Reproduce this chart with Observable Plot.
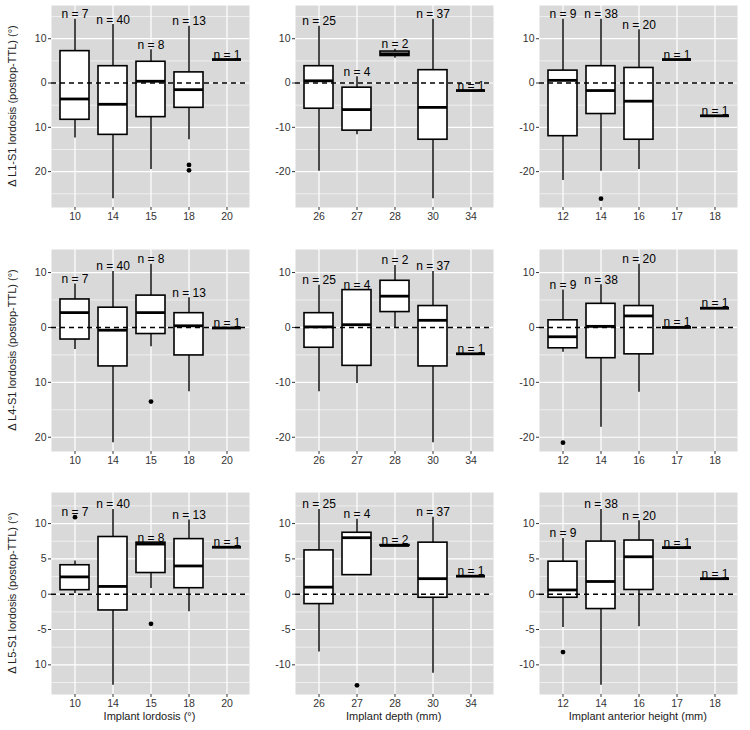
<!DOCTYPE html>
<html>
<head>
<meta charset="utf-8">
<script src="https://cdn.jsdelivr.net/npm/d3@7"></script>
<script src="https://cdn.jsdelivr.net/npm/@observablehq/plot@0.6"></script>
<style>
  html, body { margin: 0; padding: 0; background: #fff; }
  #chart { position: relative; width: 750px; height: 730px; font-family: "Liberation Sans", Arial, sans-serif; }
  .ytitle, .xtitle { position: absolute; white-space: nowrap; font-size: 11px; color: #222; }
  .ytitle { transform: translate(-50%, -50%) rotate(-90deg); }
  .xtitle { transform: translate(-50%, -50%); }
</style>
</head>
<body>
<div id="chart"></div>
<script>
// ---------- categories (x) ----------
const lordosisCats = ["10", "14", "15", "18", "20"];
const depthCats    = ["26", "27", "28", "30", "34"];
const heightCats   = ["12", "14", "16", "17", "18"];

// ---------- axis titles ----------
const rowTitles = ["Δ L1-S1 lordosis (postop-TTL) (°)", "Δ L4-S1 lordosis (postop-TTL) (°)", "Δ L5-S1 lordosis (postop-TTL) (°)"];
const colTitles = ["Implant lordosis (°)", "Implant depth (mm)", "Implant anterior height (mm)"];

// ---------- y ticks and labels (as printed) ----------
const ticksRow12 = [-20, -10, 0, 10];
const ticksRow3  = [-10, -5, 0, 5, 10];
const labelsRow12Col1 = ["20", "10", "0", "10"];
const labelsRow12     = ["-20", "-10", "0", "10"];
const labelsRow3Col1  = ["10", "-5", "0", "5", "10"];
const labelsRow3      = ["-10", "-5", "0", "5", "10"];
const minorRow12 = [-25, -15, -5, 5, 15];
const minorRow3  = [-12.5, -7.5, -2.5, 2.5, 7.5, 12.5];
const domainRow1 = [-28.1, 17.5];
const domainRow2 = [-22.6, 14.2];
const domainRow3 = [-14.2, 14.4];

// ---------- box summaries: [category, n, whiskerLow, q1, median, q3, whiskerHigh] ----------
const L1S1_lordosis = [
  ["10", 7, -12.4, -8.3, -3.6, 7.2, 14.4],
  ["14", 40, -26.1, -11.7, -4.8, 3.8, 13.2],
  ["15", 8, -19.5, -7.7, 0.4, 4.8, 7.5],
  ["18", 13, -12.8, -5.6, -1.5, 2.4, 12.8],
  ["20", 1, 5.3, 5.3, 5.3, 5.3, 5.3]
];
const L1S1_lordosis_out = [["18", -18.5], ["18", -19.7]];

const L1S1_depth = [
  ["26", 25, -19.9, -5.8, 0.5, 3.8, 12.8],
  ["27", 4, -11.7, -10.75, -6.0, -1.05, 1.4],
  ["28", 2, 5.6, 6.1, 6.6, 7.1, 7.6],
  ["30", 37, -26.1, -12.8, -5.5, 2.9, 14.4],
  ["34", 1, -1.7, -1.7, -1.7, -1.7, -1.7]
];
const L1S1_depth_out = [];

const L1S1_height = [
  ["12", 9, -22.0, -12.0, 0.6, 2.8, 14.4],
  ["14", 38, -19.9, -7.0, -1.7, 3.8, 14.4],
  ["16", 20, -19.5, -12.8, -4.1, 3.4, 12.0],
  ["17", 1, 5.3, 5.3, 5.3, 5.3, 5.3],
  ["18", 1, -7.4, -7.4, -7.4, -7.4, -7.4]
];
const L1S1_height_out = [["14", -26.1]];

const L4S1_lordosis = [
  ["10", 7, -4.0, -2.2, 2.7, 5.1, 7.9],
  ["14", 40, -21.0, -7.1, -0.5, 3.6, 10.2],
  ["15", 8, -3.5, -1.2, 2.7, 5.8, 11.5],
  ["18", 13, -11.7, -5.1, 0.3, 2.6, 5.4],
  ["20", 1, -0.1, -0.1, -0.1, -0.1, -0.1]
];
const L4S1_lordosis_out = [["15", -13.5]];

const L4S1_depth = [
  ["26", 25, -11.7, -3.7, 0.1, 2.6, 7.7],
  ["27", 4, -10.2, -7.0, 0.5, 6.8, 6.9],
  ["28", 2, 0.0, 2.8, 5.7, 8.5, 11.3],
  ["30", 37, -21.0, -7.1, 1.3, 3.9, 10.2],
  ["34", 1, -4.8, -4.8, -4.8, -4.8, -4.8]
];
const L4S1_depth_out = [];

const L4S1_height = [
  ["12", 9, -4.5, -3.8, -1.7, 1.3, 6.8],
  ["14", 38, -18.2, -5.6, 0.2, 4.3, 7.8],
  ["16", 20, -11.8, -4.9, 2.1, 3.9, 11.5],
  ["17", 1, 0.0, 0.0, 0.0, 0.0, 0.0],
  ["18", 1, 3.5, 3.5, 3.5, 3.5, 3.5]
];
const L4S1_height_out = [["12", -21.0]];

const L5S1_lordosis = [
  ["10", 7, 0.1, 0.57, 2.45, 4.1, 4.7],
  ["14", 40, -12.9, -2.3, 1.1, 8.1, 12.0],
  ["15", 8, 0.8, 3.0, 7.1, 7.3, 7.3],
  ["18", 13, -2.5, 0.85, 4.0, 7.8, 10.5],
  ["20", 1, 6.65, 6.65, 6.65, 6.65, 6.65]
];
const L5S1_lordosis_out = [["10", 10.9], ["15", -4.2]];

const L5S1_depth = [
  ["26", 25, -8.2, -1.4, 1.0, 6.2, 12.0],
  ["27", 4, 2.7, 2.7, 8.0, 8.7, 10.6],
  ["28", 2, 6.8, 6.85, 6.9, 6.95, 7.0],
  ["30", 37, -11.2, -0.5, 2.2, 7.3, 10.9],
  ["34", 1, 2.55, 2.55, 2.55, 2.55, 2.55]
];
const L5S1_depth_out = [["27", -12.9]];

const L5S1_height = [
  ["12", 9, -4.7, -0.5, 0.6, 4.6, 7.9],
  ["14", 38, -12.9, -2.1, 1.8, 7.45, 12.0],
  ["16", 20, -4.6, 0.6, 5.3, 7.6, 10.4],
  ["17", 1, 6.6, 6.6, 6.6, 6.6, 6.6],
  ["18", 1, 2.2, 2.2, 2.2, 2.2, 2.2]
];
const L5S1_height_out = [["12", -8.2]];

// ---------- layout ----------
const mL = 32, mR = 4, mT = 4, mB = 22;
const PW = 198, PH = 202;
const colLeft = [50.5, 294.7, 538.8];
const rowTop = [5, 248.5, 492.3];

const panels = [
  [L1S1_lordosis, L1S1_lordosis_out, L1S1_depth, L1S1_depth_out, L1S1_height, L1S1_height_out],
  [L4S1_lordosis, L4S1_lordosis_out, L4S1_depth, L4S1_depth_out, L4S1_height, L4S1_height_out],
  [L5S1_lordosis, L5S1_lordosis_out, L5S1_depth, L5S1_depth_out, L5S1_height, L5S1_height_out]
];
const catsByCol = [lordosisCats, depthCats, heightCats];
const domains = [domainRow1, domainRow2, domainRow3];
const ticksByRow = [ticksRow12, ticksRow12, ticksRow3];
const minorByRow = [minorRow12, minorRow12, minorRow3];
const labelsFor = (r, c) => r < 2 ? (c === 0 ? labelsRow12Col1 : labelsRow12) : (c === 0 ? labelsRow3Col1 : labelsRow3);

const chart = document.getElementById("chart");

function panel(r, c) {
  const rows = panels[r][c * 2];
  const outs = panels[r][c * 2 + 1];
  const data = rows.map(([cat, n, lo, q1, med, q3, hi]) => {
    const oMax = d3.max(outs.filter(o => o[0] === cat), o => o[1]);
    return {cat, n, lo, q1, med, q3, hi, top: oMax != null ? Math.max(hi, oMax) : hi};
  });
  const ticks = ticksByRow[r];
  const labels = labelsFor(r, c);
  const svg = Plot.plot({
    width: mL + PW + mR,
    height: mT + PH + mB,
    marginLeft: mL, marginRight: mR, marginTop: mT, marginBottom: mB,
    style: {fontFamily: "Liberation Sans, Arial, sans-serif", fontSize: "10px", background: "transparent", overflow: "visible"},
    x: {type: "band", domain: catsByCol[c], paddingInner: 0.25, paddingOuter: 0.225, label: null},
    y: {domain: domains[r], label: null},
    marks: [
      Plot.frame({fill: "#d9d9d9", stroke: "none"}),
      Plot.gridY({ticks: minorByRow[r], stroke: "white", strokeOpacity: 1, strokeWidth: 0.6}),
      Plot.gridY({ticks: ticks, stroke: "white", strokeOpacity: 1, strokeWidth: 1.2}),
      Plot.gridX({stroke: "white", strokeOpacity: 1, strokeWidth: 1.2}),
      Plot.axisY({ticks: ticks, tickFormat: d => labels[ticks.indexOf(d)], tickSize: 3, tickPadding: 2, fontSize: 10.5, color: "#333", label: null}),
      Plot.axisX({tickSize: 3, tickPadding: 2, fontSize: 10.5, color: "#333", label: null}),
      Plot.ruleX(data, {x: "cat", y1: "lo", y2: "hi", stroke: "black", strokeWidth: 1.4}),
      Plot.barY(data, {x: "cat", y1: "q1", y2: "q3", fill: "white", stroke: "black", strokeWidth: 1.6}),
      Plot.tickY(data, {x: "cat", y: "med", stroke: "black", strokeWidth: 2.8}),
      Plot.dot(outs, {x: d => d[0], y: d => d[1], r: 2.4, fill: "black", stroke: "none"}),
      Plot.ruleY([0], {stroke: "black", strokeWidth: 1.5, strokeDasharray: "5,4"}),
      Plot.text(data, {x: "cat", y: "top", text: d => `n = ${d.n}`, lineAnchor: "bottom", dy: -1, fontSize: 12, fill: "black"})
    ]
  });
  svg.style.position = "absolute";
  svg.style.left = (colLeft[c] - mL) + "px";
  svg.style.top = (rowTop[r] - mT) + "px";
  chart.appendChild(svg);
}

for (let r = 0; r < 3; r++) for (let c = 0; c < 3; c++) panel(r, c);

rowTitles.forEach((t, r) => {
  const d = document.createElement("div");
  d.className = "ytitle";
  d.textContent = t;
  d.style.left = "12px";
  d.style.top = (rowTop[r] + PH / 2) + "px";
  chart.appendChild(d);
});
colTitles.forEach((t, c) => {
  const d = document.createElement("div");
  d.className = "xtitle";
  d.textContent = t;
  d.style.left = (colLeft[c] + PW / 2) + "px";
  d.style.top = "716px";
  chart.appendChild(d);
});
</script>
</body>
</html>
